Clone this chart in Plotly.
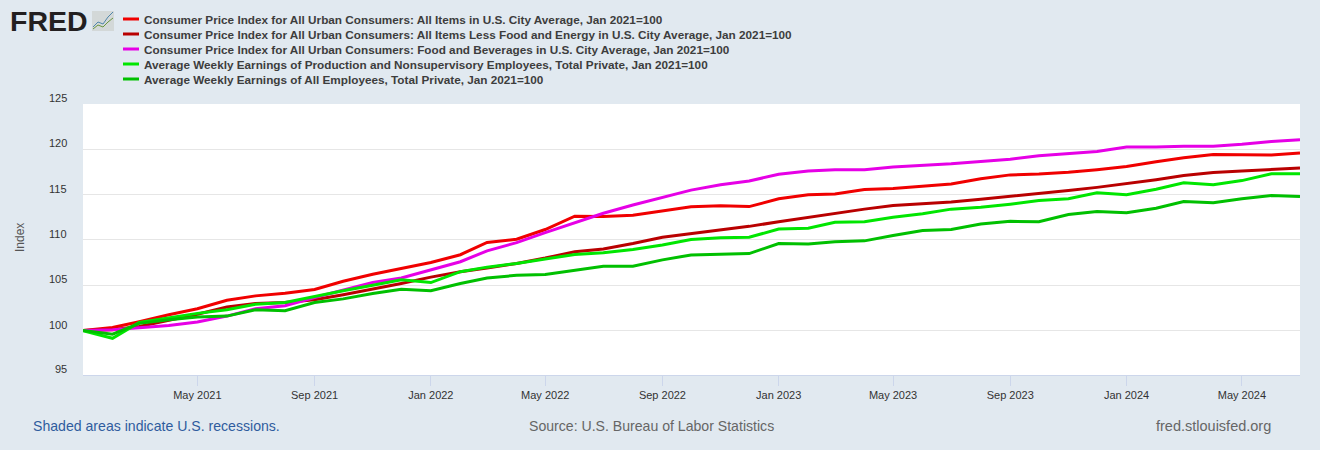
import plotly.graph_objects as go

months = [f"{y}-{m:02d}-01" for y in range(2021, 2025) for m in range(1, 13)][:43]

names = [
    "Consumer Price Index for All Urban Consumers: All Items in U.S. City Average, Jan 2021=100",
    "Consumer Price Index for All Urban Consumers: All Items Less Food and Energy in U.S. City Average, Jan 2021=100",
    "Consumer Price Index for All Urban Consumers: Food and Beverages in U.S. City Average, Jan 2021=100",
    "Average Weekly Earnings of Production and Nonsupervisory Employees, Total Private, Jan 2021=100",
    "Average Weekly Earnings of All Employees, Total Private, Jan 2021=100",
]
colors = ["#f00000", "#b90000", "#e600e6", "#00e600", "#00c000"]

cpi_all = [100, 100.35, 100.98, 101.75, 102.41, 103.34, 103.83, 104.11, 104.54, 105.45, 106.21, 106.82,
           107.51, 108.37, 109.72, 110.08, 111.15, 112.62, 112.60, 112.73, 113.17, 113.66, 113.77, 113.68,
           114.54, 114.98, 115.07, 115.56, 115.69, 115.93, 116.17, 116.76, 117.18, 117.27, 117.46, 117.74,
           118.10, 118.62, 119.07, 119.44, 119.45, 119.38, 119.6]
cpi_core = [100, 100.1, 100.45, 101.1, 101.8, 102.6, 103.0, 103.1, 103.4, 103.95, 104.55, 105.2,
            105.9, 106.5, 106.9, 107.4, 108.0, 108.7, 109.0, 109.6, 110.3, 110.7, 111.05, 111.5,
            112.0, 112.5, 112.9, 113.4, 113.8, 114.0, 114.2, 114.5, 114.8, 115.1, 115.45, 115.8,
            116.2, 116.65, 117.1, 117.45, 117.6, 117.75, 117.95]
cpi_food = [100, 100.1, 100.3, 100.55, 100.95, 101.6, 102.4, 102.75, 103.65, 104.5, 105.3, 105.8,
            106.7, 107.6, 108.8, 109.7, 110.8, 111.9, 112.95, 113.85, 114.7, 115.5, 116.1, 116.5,
            117.25, 117.6, 117.75, 117.75, 118.05, 118.2, 118.4, 118.65, 118.9, 119.3, 119.5, 119.75,
            120.25, 120.25, 120.35, 120.35, 120.55, 120.85, 121.05]
earn_prod = [100, 99.15, 100.9, 101.4, 101.9, 102.3, 102.9, 103.1, 103.8, 104.4, 105.0, 105.6,
             105.3, 106.5, 107.0, 107.4, 107.9, 108.4, 108.6, 108.95, 109.45, 110.05, 110.25, 110.3,
             111.2, 111.3, 111.95, 112.0, 112.5, 112.9, 113.4, 113.6, 113.95, 114.35, 114.55, 115.2,
             115.0, 115.6, 116.3, 116.1, 116.55, 117.3, 117.3]
earn_all = [100, 99.6, 100.8, 101.2, 101.5, 101.6, 102.3, 102.2, 103.1, 103.5, 104.1, 104.55,
            104.4, 105.2, 105.8, 106.1, 106.2, 106.65, 107.1, 107.1, 107.8, 108.35, 108.45, 108.5,
            109.6, 109.55, 109.8, 109.9, 110.5, 111.05, 111.15, 111.75, 112.05, 112.0, 112.8, 113.15,
            113.0, 113.5, 114.25, 114.1, 114.55, 114.9, 114.8]
series = [cpi_all, cpi_core, cpi_food, earn_prod, earn_all]

y_ticks = [95, 100, 105, 110, 115, 120, 125]
x_ticks = ["2021-05-01", "2021-09-01", "2022-01-01", "2022-05-01", "2022-09-01", "2023-01-01",
           "2023-05-01", "2023-09-01", "2024-01-01", "2024-05-01"]
x_labels = ["May 2021", "Sep 2021", "Jan 2022", "May 2022", "Sep 2022", "Jan 2023",
            "May 2023", "Sep 2023", "Jan 2024", "May 2024"]

W, H = 1320, 450
L, R, T, B = 83, 20, 104, 75
FONT = "Liberation Sans, Arial, sans-serif"
BG = "#e1e9f0"


def px(x):
    return (x - L) / (W - L - R)


def py(y):
    return 1 - (y - T) / (H - T - B)


fig = go.Figure()
for name, vals, col in zip(names, series, colors):
    fig.add_trace(go.Scatter(x=months, y=vals, mode="lines", name=name, showlegend=False,
                             line=dict(color=col, width=3), hoverinfo="x+y"))

annotations = []
shapes = []
for t in y_ticks:
    # the lowest label sits on the axis line, just outside the drawn value range
    on_axis = t > 95
    annotations.append(dict(x=px(69), y=t if on_axis else 0, xref="paper", yref="y" if on_axis else "paper",
                            text=str(t), showarrow=False, xanchor="right", yanchor="middle", yshift=6,
                            font=dict(family=FONT, size=11, color="#333333")))
for txt, x, y, anchor, size, col in [
    ("Shaded areas indicate U.S. recessions.", 31, 425.5, "left", 14.1, "#2f5c9e"),
    ("Source: U.S. Bureau of Labor Statistics", 527, 425.5, "left", 14.1, "#666666"),
    ("fred.stlouisfed.org", 1273, 425.5, "right", 14.5, "#666666"),
]:
    annotations.append(dict(x=px(x), y=py(y), xref="paper", yref="paper", text=txt, showarrow=False,
                            xanchor=anchor, yanchor="middle",
                            font=dict(family=FONT, size=size, color=col)))
annotations.append(dict(x=px(20), y=py(238), xref="paper", yref="paper", text="Index", showarrow=False,
                        textangle=-90, xanchor="center", yanchor="middle",
                        font=dict(family=FONT, size=12, color="#555555")))
annotations.append(dict(x=px(8), y=py(21), xref="paper", yref="paper", text="<b>FRED</b>", showarrow=False,
                        xanchor="left", yanchor="middle",
                        font=dict(family=FONT, size=28.5, color="#231f20")))

# Legend rows (Plotly's own legend cannot be set to the reference's 15 px row pitch)
for i, (name, col) in enumerate(zip(names, colors)):
    y = 19 + 15 * i
    shapes.append(dict(type="line", xref="paper", yref="paper", x0=px(123), x1=px(139), y0=py(y), y1=py(y),
                       line=dict(color=col, width=3), layer="above"))
    annotations.append(dict(x=px(142), y=py(y + 0.7), xref="paper", yref="paper", text=f"<b>{name}</b>",
                            showarrow=False, xanchor="left", yanchor="middle",
                            font=dict(family=FONT, size=11.76, color="#3d3d3d")))

shapes.append(dict(type="rect", xref="paper", yref="paper", x0=px(92), x1=px(114), y0=py(31), y1=py(11),
                   fillcolor="#d3d8d8", line=dict(width=0), layer="above"))
for pts, col in [([(93, 27), (98, 22), (103, 24), (108, 17), (113, 12)], "#4f86aa"),
                 ([(93, 29), (98, 25), (103, 27), (108, 22), (113, 18)], "#6a9640")]:
    path = "M " + " L ".join(f"{px(a)},{py(b)}" for a, b in pts)
    shapes.append(dict(type="path", xref="paper", yref="paper", path=path,
                       line=dict(color=col, width=1), layer="above"))

fig.update_layout(
    width=W, height=H, autosize=False,
    paper_bgcolor=BG, plot_bgcolor="#ffffff",
    margin=dict(l=L, r=R, t=T, b=B, pad=0),
    font=dict(family=FONT, size=11, color="#333333"),
    showlegend=False,
    xaxis=dict(type="date", range=["2021-01-01", "2024-07-01"], tickmode="array",
               tickvals=x_ticks, ticktext=x_labels, ticks="outside", ticklen=10, tickwidth=1,
               tickcolor="#ccd6eb", showgrid=False, showline=True, linecolor="#ccd6eb", linewidth=1,
               zeroline=False, tickfont=dict(family=FONT, size=11, color="#333333")),
    yaxis=dict(range=[95.1, 125], tickmode="array", tickvals=y_ticks, showticklabels=False,
               showgrid=True, gridcolor="#e6e6e6", gridwidth=1, zeroline=False, ticks=""),
    annotations=annotations, shapes=shapes,
)

fig.write_html("out.html", config={"displayModeBar": False},
               post_script="document.body.style.margin='0';document.documentElement.style.overflow='hidden';"
                           "document.body.style.background='" + BG + "';")
